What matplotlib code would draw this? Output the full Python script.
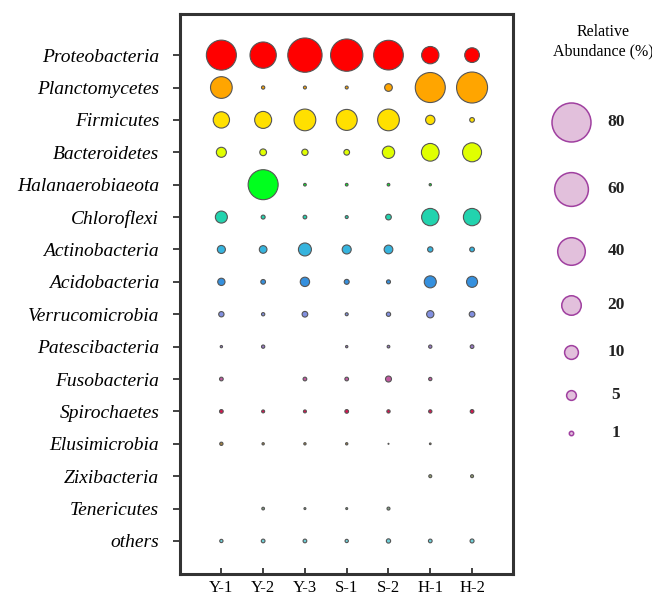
import numpy as np
import matplotlib
matplotlib.use("Agg")
import matplotlib.pyplot as plt

plt.rcParams['font.family'] = ['Liberation Serif', 'DejaVu Serif']

samples = ['Y-1', 'Y-2', 'Y-3', 'S-1', 'S-2', 'H-1', 'H-2']
phyla = ['Proteobacteria', 'Planctomycetes', 'Firmicutes', 'Bacteroidetes',
         'Halanaerobiaeota', 'Chloroflexi', 'Actinobacteria', 'Acidobacteria',
         'Verrucomicrobia', 'Patescibacteria', 'Fusobacteria', 'Spirochaetes',
         'Elusimicrobia', 'Zixibacteria', 'Tenericutes', 'others']

# relative abundance (%) per phylum, one value per sample (0 = not detected)
proteobacteria   = [47.4, 36.4, 61.9, 54.9, 46.4, 15.8, 11.4]
planctomycetes   = [24.8, 0.57, 0.47, 0.47, 3.1, 47.4, 50.6]
firmicutes       = [14.0, 15.2, 24.8, 23.2, 24.8, 4.6, 1.16]
bacteroidetes    = [5.3, 2.4, 2.1, 1.7, 8.0, 16.5, 19.0]
halanaerobiaeota = [0, 47.4, 0.38, 0.38, 0.38, 0.28, 0]
chloroflexi      = [7.6, 0.84, 0.72, 0.47, 1.7, 15.8, 15.8]
actinobacteria   = [3.4, 3.1, 8.9, 4.3, 4.0, 1.5, 1.16]
acidobacteria    = [2.8, 1.16, 4.6, 1.3, 0.84, 7.6, 6.4]
verrucomicrobia  = [1.5, 0.57, 1.7, 0.47, 0.97, 2.8, 1.7]
patescibacteria  = [0.28, 0.57, 0, 0.28, 0.38, 0.57, 0.72]
fusobacteria     = [0.72, 0, 0.72, 0.72, 1.9, 0.57, 0]
spirochaetes     = [0.72, 0.47, 0.47, 0.72, 0.57, 0.57, 0.72]
elusimicrobia    = [0.57, 0.28, 0.28, 0.28, 0.05, 0.15, 0]
zixibacteria     = [0, 0, 0, 0, 0, 0.47, 0.47]
tenericutes      = [0, 0.38, 0.2, 0.2, 0.47, 0, 0]
others           = [0.57, 0.72, 0.72, 0.57, 0.97, 0.72, 0.84]

abundance = np.array([proteobacteria, planctomycetes, firmicutes, bacteroidetes,
                      halanaerobiaeota, chloroflexi, actinobacteria, acidobacteria,
                      verrucomicrobia, patescibacteria, fusobacteria, spirochaetes,
                      elusimicrobia, zixibacteria, tenericutes, others])

colors = ['#ff0000', '#ffa500', '#ffe000', '#e0ff00', '#00ff1e', '#22d3ae',
          '#36b4de', '#3590de', '#8290e0', '#9a78c8', '#c05aa0', '#e0104f',
          '#a88440', '#94a070', '#82a082', '#70d0d8']

legend_values = [80, 60, 40, 20, 10, 5, 1]

DPI = 100


def bubble_px(v):
    # marker diameter in pixels, area grows linearly with abundance
    return np.sqrt(19.0 * np.asarray(v, dtype=float))


def bubble_size(v):
    return (bubble_px(v) * 72.0 / DPI) ** 2


fig = plt.figure(figsize=(6.52, 5.96), dpi=DPI)
ax = fig.add_axes([180 / 652, 22 / 596, 333 / 652, 560 / 596])

for i, name in enumerate(phyla):
    vals = abundance[i]
    xs = np.arange(len(samples))[vals > 0]
    ax.scatter(xs, np.full(len(xs), i), s=bubble_size(vals[vals > 0]),
               c=colors[i], edgecolors='#555555', linewidths=0.8, zorder=3)

ax.set_xlim(-0.99, 6.98)
ax.set_ylim(16.02, -1.27)
ax.set_xticks(range(len(samples)))
ax.set_xticklabels(samples, fontsize=12)
ax.set_yticks(range(len(phyla)))
ax.set_yticklabels(phyla, fontsize=14, style='italic')
ax.tick_params(axis='y', direction='out', length=5, width=1.3, color='#333333', pad=10)
ax.tick_params(axis='x', direction='in', length=4, width=1.3, color='#333333', pad=4)
for sp in ax.spines.values():
    sp.set_linewidth(2.2)
    sp.set_color('#333333')

# size legend drawn in pixel coordinates on an overlay axes
lax = fig.add_axes([0, 0, 1, 1])
lax.set_xlim(0, 652)
lax.set_ylim(596, 0)
lax.axis('off')
lax.text(603, 32, 'Relative', ha='center', va='center', fontsize=11.5)
lax.text(603, 51, 'Abundance (%)', ha='center', va='center', fontsize=11.5)

gap = 29.3
y = 122.0
prev_r = None
for v in legend_values:
    r = bubble_px(v) / 2 + 0.75
    if prev_r is not None:
        y += prev_r + gap + r
    lax.scatter([571], [y], s=bubble_size(v), c='#e2c0dc', edgecolors='#a040a0',
                linewidths=1.1, zorder=3)
    lax.text(616, y, str(v), ha='center', va='center', fontsize=12.5, fontweight='bold',
             color='#222222')
    prev_r = r

fig.savefig('out.png', dpi=DPI)
